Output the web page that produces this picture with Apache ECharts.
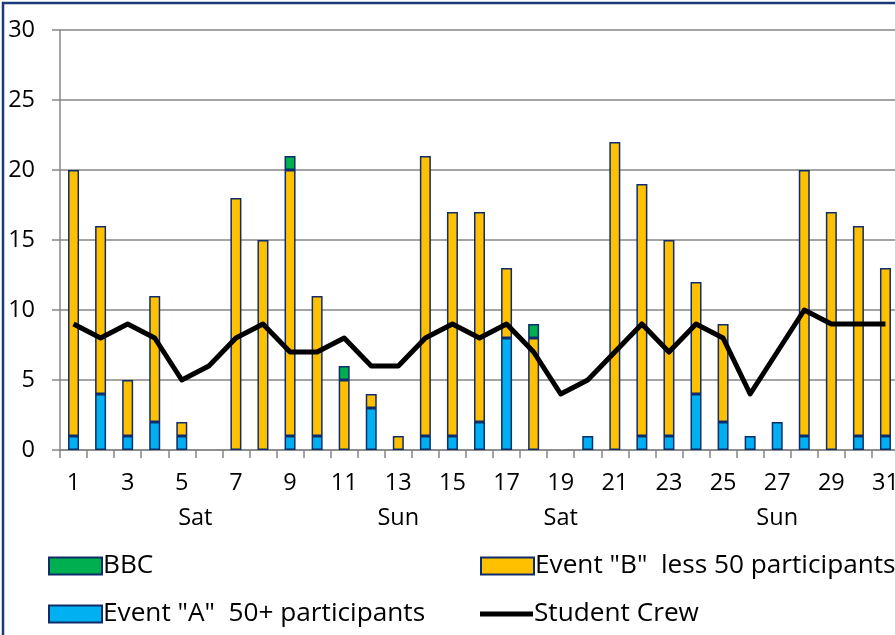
<!DOCTYPE html>
<html><head><meta charset="utf-8">
<script src="https://cdn.jsdelivr.net/npm/echarts@6/dist/echarts.min.js"></script>
<style>html,body{margin:0;padding:0;background:#fff;}#c{width:895px;height:635px;}</style>
</head><body><div id="c"></div>
<script>
var days = ['1','2','3','4','5','6','7','8','9','10','11','12','13','14','15','16','17','18','19','20','21','22','23','24','25','26','27','28','29','30','31'];
var eventA = [1,4,1,2,1,0,0,0,1,1,0,3,0,1,1,2,8,0,0,1,0,1,1,4,2,1,2,1,0,1,1];
var eventB = [19,12,4,9,1,0,18,15,19,10,5,1,1,20,16,15,5,8,0,0,22,18,14,8,7,0,0,19,17,15,12];
var bbc = [0,0,0,0,0,0,0,0,1,0,1,0,0,0,0,0,0,1,0,0,0,0,0,0,0,0,0,0,0,0,0];
var crew = [9,8,9,8,5,6,8,9,7,7,8,6,6,8,9,8,9,7,4,5,7,9,7,9,8,4,7,10,9,9,9];
var groupLabels = ['Sat','Sun','Sat','Sun'];
var groupCenters = [5.5, 13, 19, 27];

var nameA = 'Event "A"  50+ participants';
var nameB = 'Event "B"  less 50 participants';
var nameBBC = 'BBC';
var nameCrew = 'Student Crew';

function nz(a){return a.map(function(v){return v===0?'-':v;});}
var FONT = 'Open Sans';
var FS = 23.5;
var LFS = 26.2;
var border = '#0F2D6B';
function leg(name,left,centerY,ih){
  return {data:[{name:name,icon:'rect'}],left:left,top:centerY-LFS/2,itemWidth:53,itemHeight:ih,padding:0,
    textStyle:{fontFamily:FONT,fontSize:LFS,color:'#000',padding:[0,0,0,-4]}};
}
var chart = echarts.init(document.getElementById('c'));
chart.setOption({
  animation:false,
  textStyle:{fontFamily:FONT},
  graphic:[{type:'rect',shape:{x:3,y:3,width:1200,height:1200},style:{fill:'none',stroke:'#1B3A7A',lineWidth:2.5},silent:true}],
  grid:{left:60,top:30,bottom:185,right:-4,containLabel:false,outerBoundsMode:'none'},
  legend:[
    leg(nameBBC,48,566,17),
    leg(nameB,480,566,17),
    leg(nameA,48,614,17),
    leg(nameCrew,480,614,5)
  ],
  xAxis:[
    {type:'category',data:days,boundaryGap:true,
     axisLine:{lineStyle:{color:'#868686',width:1.5}},
     axisTick:{show:true,alignWithLabel:false,interval:0,length:8,lineStyle:{color:'#868686',width:1.5}},
     axisLabel:{interval:1,margin:21,fontFamily:FONT,fontSize:FS,color:'#000'}},
    {type:'value',min:0.5,max:31.5,interval:0.5,position:'bottom',
     axisLine:{show:false},axisTick:{show:false},splitLine:{show:false},
     axisLabel:{margin:56,fontFamily:FONT,fontSize:FS,color:'#000',showMinLabel:true,showMaxLabel:true,
       formatter:function(v){for(var i=0;i<groupCenters.length;i++){if(Math.abs(v-groupCenters[i])<0.01)return groupLabels[i];}return '';}}}
  ],
  yAxis:{type:'value',min:0,max:30,interval:5,
    axisLine:{show:true,lineStyle:{color:'#868686',width:1.5}},
    axisTick:{show:true,length:8,lineStyle:{color:'#868686',width:1.5}},
    splitLine:{lineStyle:{color:'#868686',width:1.5}},
    axisLabel:{margin:25,fontFamily:FONT,fontSize:FS,color:'#000'}},
  series:[
    {name:nameA,type:'bar',stack:'s',data:nz(eventA),barWidth:11,
     itemStyle:{color:'#00B0F0',borderColor:border,borderWidth:1.5}},
    {name:nameB,type:'bar',stack:'s',data:nz(eventB),barWidth:11,
     itemStyle:{color:'#FFC000',borderColor:border,borderWidth:1.5}},
    {name:nameBBC,type:'bar',stack:'s',data:nz(bbc),barWidth:11,
     itemStyle:{color:'#00B050',borderColor:border,borderWidth:1.5}},
    {name:nameCrew,type:'line',data:crew,showSymbol:false,symbol:'none',
     lineStyle:{color:'#000',width:5,join:'round'},itemStyle:{color:'#000'}}
  ]
});
</script></body></html>
